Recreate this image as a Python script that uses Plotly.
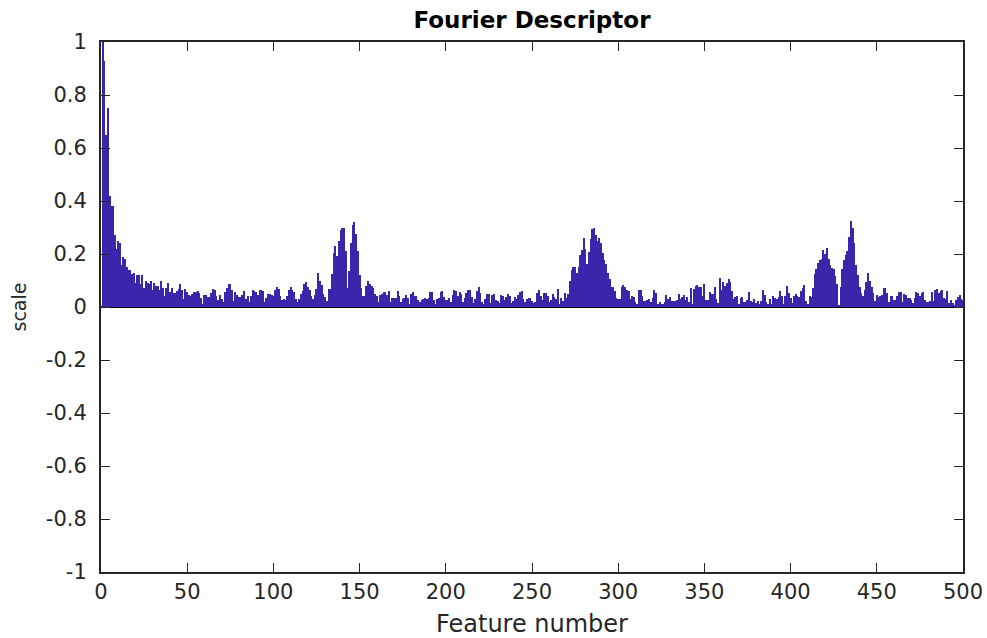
import plotly.graph_objects as go

# Fourier descriptor magnitudes, features 1..500
seg01 = [1.0, 0.93, 0.65, 0.75, 0.42, 0.38, 0.38, 0.27, 0.22, 0.25, 0.24, 0.16, 0.19, 0.18, 0.15, 0.14,
         0.14, 0.125, 0.13, 0.09, 0.12, 0.12, 0.087, 0.12, 0.07, 0.1, 0.09, 0.085, 0.1, 0.065, 0.09, 0.08,
         0.08, 0.065, 0.1, 0.07, 0.04, 0.07, 0.09, 0.055, 0.07]
seg02 = [0.053, 0.053, 0.06, 0.068, 0.087, 0.065, 0.03, 0.068, 0.057, 0.045, 0.04, 0.05, 0.057, 0.057,
         0.06, 0.053, 0.034, 0.01, 0.045, 0.045, 0.038, 0.038, 0.053, 0.068, 0.065, 0.04, 0.026, 0.045,
         0.03, 0.02, 0.057, 0.072, 0.087, 0.087, 0.065, 0.023, 0.057, 0.045, 0.038, 0.038, 0.045, 0.06]
seg03 = [0.03, 0.04, 0.02, 0.04, 0.064, 0.06, 0.057, 0.045, 0.064, 0.064, 0.06, 0.02, 0.034, 0.05, 0.05,
         0.045, 0.04, 0.064, 0.075, 0.068, 0.04, 0.026, 0.03, 0.026, 0.04, 0.064, 0.075, 0.064, 0.057,
         0.03, 0.02, 0.03, 0.05, 0.06, 0.087, 0.094, 0.075, 0.064, 0.04, 0.03, 0.045, 0.068]
seg04 = [0.128, 0.098, 0.083, 0.05, 0.038, 0.023, 0.068, 0.068, 0.125, 0.204, 0.23, 0.192, 0.25, 0.29,
         0.3, 0.3, 0.21, 0.07, 0.136, 0.24, 0.31, 0.32, 0.275, 0.21, 0.12, 0.07, 0.04, 0.04, 0.08, 0.098,
         0.087, 0.08, 0.07, 0.05, 0.04, 0.02, 0.045, 0.05, 0.057, 0.057, 0.045, 0.06]
seg05 = [0.02, 0.034, 0.034, 0.035, 0.06, 0.04, 0.02, 0.03, 0.034, 0.045, 0.034, 0.01, 0.05, 0.057, 0.04,
         0.04, 0.026, 0.02, 0.026, 0.03, 0.034, 0.03, 0.034, 0.057, 0.057, 0.026, 0.01, 0.03, 0.034, 0.057,
         0.06, 0.036, 0.026, 0.026, 0.034, 0.02, 0.045, 0.064, 0.06, 0.042, 0.057, 0.05]
seg06 = [0.02, 0.034, 0.053, 0.064, 0.064, 0.038, 0.015, 0.03, 0.06, 0.075, 0.053, 0.02, 0.01, 0.03, 0.05,
         0.05, 0.015, 0.045, 0.05, 0.026, 0.023, 0.015, 0.045, 0.04, 0.026, 0.038, 0.05, 0.04, 0.015,
         0.023, 0.038, 0.03, 0.045, 0.057, 0.06, 0.03, 0.02, 0.03, 0.034, 0.034, 0.023, 0.015]
seg07 = [0.02, 0.053, 0.064, 0.04, 0.026, 0.053, 0.053, 0.04, 0.019, 0.026, 0.05, 0.038, 0.03, 0.068,
         0.01, 0.034, 0.023, 0.053, 0.034, 0.05, 0.1, 0.14, 0.15, 0.15, 0.13, 0.15, 0.196, 0.215, 0.26,
         0.22, 0.162, 0.207, 0.257, 0.294, 0.30, 0.27, 0.25, 0.26, 0.24, 0.204]
seg08 = [0.177, 0.162, 0.128, 0.106, 0.075, 0.075, 0.06, 0.034, 0.03, 0.03, 0.075, 0.083, 0.075, 0.064,
         0.06, 0.03, 0.04, 0.038, 0.02, 0.01, 0.064, 0.064, 0.04, 0.023, 0.023, 0.026, 0.03, 0.02, 0.034,
         0.064, 0.053, 0.011, 0.019, 0.011, 0.011, 0.019, 0.045, 0.03, 0.038, 0.023, 0.023, 0.023, 0.026]
seg09 = [0.05, 0.03, 0.038, 0.045, 0.026, 0.038, 0.019, 0.072, 0.011, 0.068, 0.08, 0.083, 0.075, 0.075,
         0.04, 0.087, 0.026, 0.026, 0.057, 0.05, 0.05, 0.075, 0.03, 0.015, 0.11, 0.064, 0.094, 0.08,
         0.091, 0.106, 0.094, 0.06, 0.03, 0.038, 0.04, 0.011, 0.034, 0.038, 0.019, 0.019, 0.026, 0.057]
seg10 = [0.023, 0.019, 0.03, 0.015, 0.023, 0.01, 0.023, 0.064, 0.045, 0.019, 0.011, 0.03, 0.011, 0.04,
         0.034, 0.03, 0.038, 0.06, 0.04, 0.011, 0.04, 0.079, 0.053, 0.034, 0.015, 0.042, 0.05, 0.042,
         0.038, 0.06, 0.072, 0.083, 0.023, 0.011, 0.042, 0.038, 0.072, 0.125, 0.143, 0.166, 0.177]
seg11 = [0.18, 0.215, 0.2, 0.223, 0.18, 0.158, 0.147, 0.143, 0.117, 0.087, 0.008, 0.075, 0.143, 0.177,
         0.196, 0.211, 0.264, 0.325, 0.3, 0.24, 0.16, 0.12, 0.075, 0.053, 0.042, 0.064, 0.094, 0.128,
         0.098, 0.075, 0.053, 0.023, 0.045, 0.038, 0.042, 0.045, 0.072, 0.072, 0.053, 0.019, 0.042, 0.042]
seg12 = [0.026, 0.026, 0.04, 0.057, 0.057, 0.019, 0.05, 0.045, 0.034, 0.034, 0.026, 0.015, 0.034, 0.057,
         0.053, 0.04, 0.053, 0.057, 0.026, 0.019, 0.019, 0.023, 0.057, 0.023, 0.064, 0.068, 0.053, 0.06,
         0.064, 0.034, 0.03, 0.06, 0.015, 0.026, 0.015, 0.008, 0.026, 0.038, 0.045, 0.03, 0.026]

values = (seg01 + seg02 + seg03 + seg04 + seg05 + seg06 + seg07 + seg08 + seg09 + seg10 + seg11 + seg12)
features = list(range(1, len(values) + 1))

x_ticks = [0, 50, 100, 150, 200, 250, 300, 350, 400, 450, 500]
y_ticks = [-1, -0.8, -0.6, -0.4, -0.2, 0, 0.2, 0.4, 0.6, 0.8, 1]
y_labels = ["-1", "-0.8", "-0.6", "-0.4", "-0.2", "0", "0.2", "0.4", "0.6", "0.8", "1"]

FONT = "DejaVu Sans, Liberation Sans, sans-serif"
BAR = "rgb(58,38,170)"
INK = "#262626"

fig = go.Figure(go.Bar(x=features, y=values, width=0.6, marker=dict(color=BAR, line=dict(width=0))))

axis_common = dict(
    showgrid=False, ticks="inside", ticklen=9, tickwidth=1, tickcolor=INK,
    showline=True, linecolor=INK, linewidth=2, mirror="ticks", automargin=False,
    tickfont=dict(family=FONT, size=21, color=INK),
)

fig.update_layout(
    width=987, height=638,
    margin=dict(l=101, r=24, t=42, b=66),
    paper_bgcolor="white", plot_bgcolor="white",
    bargap=0,
    showlegend=False,
    title=dict(text="<b>Fourier Descriptor</b>", x=0.5, xref="paper", xanchor="center",
               y=1 - 20 / 638, yref="container", yanchor="middle",
               font=dict(family=FONT, size=23, color="black")),
    xaxis=dict(range=[0, 500], tickvals=x_ticks, ticktext=[str(t) for t in x_ticks],
               ticklabelstandoff=0,
               title=dict(text="Feature number", font=dict(family=FONT, size=24, color=INK), standoff=14),
               zeroline=False, **axis_common),
    yaxis=dict(range=[-1, 1], tickvals=y_ticks, ticktext=y_labels, ticklabelstandoff=8,
               title=dict(text="scale", font=dict(family=FONT, size=19, color=INK), standoff=14),
               zeroline=True, zerolinecolor="black", zerolinewidth=2, **axis_common),
)

# remove the default page margin so the 987x638 figure fills the window exactly
fig.write_html("out.html",
               config={"displayModeBar": False},
               post_script="document.body.style.margin='0';document.body.style.overflow='hidden';")
